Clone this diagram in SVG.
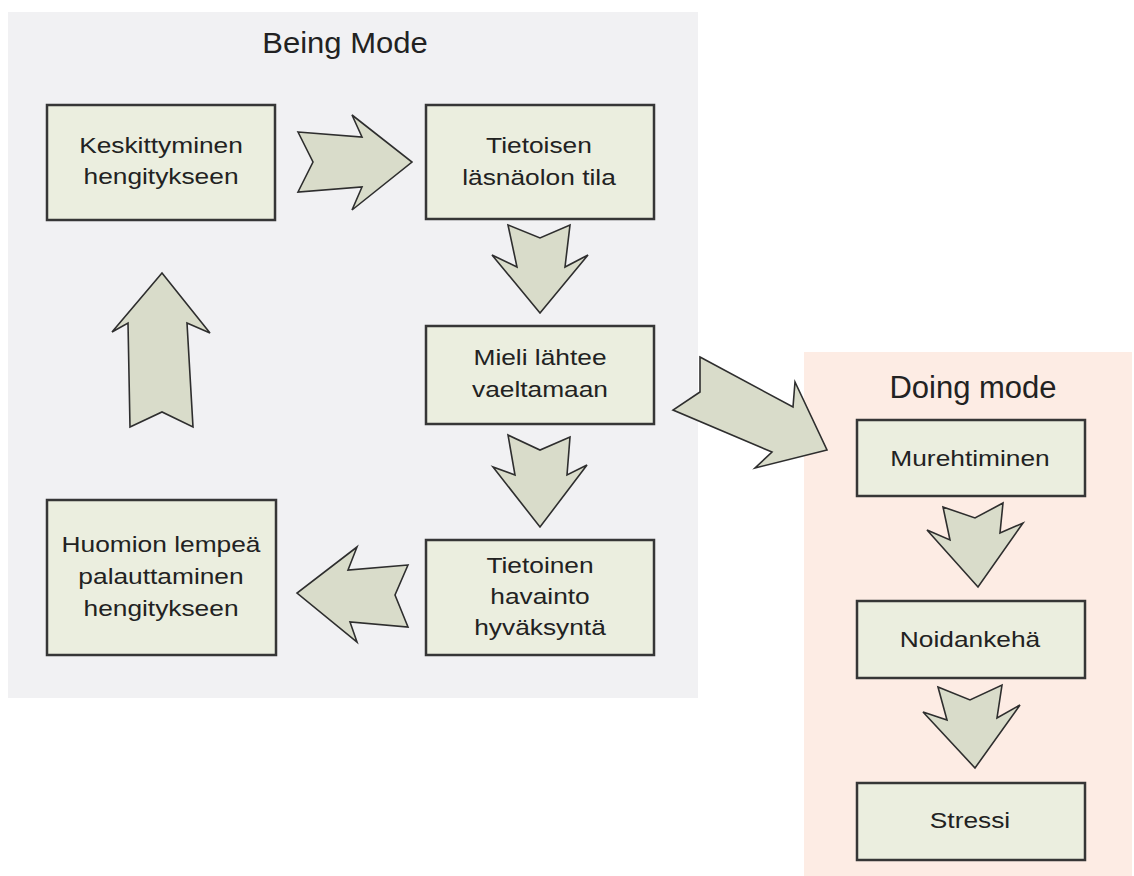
<svg xmlns="http://www.w3.org/2000/svg" width="1134" height="876" viewBox="0 0 1134 876">
<style>
.panelB{fill:#f1f1f3;}
.panelD{fill:#fdece4;}
.box{fill:#ebeedf;stroke:#363636;stroke-width:2.5;}
.arr{fill:#d9dcca;stroke:#2e2e2e;stroke-width:1.6;stroke-linejoin:miter;}
.t{font-family:"Liberation Sans",Arial,sans-serif;font-size:22.5px;fill:#222;text-anchor:middle;}
.title{font-family:"Liberation Sans",Arial,sans-serif;fill:#222;text-anchor:middle;}
</style>
<rect width="1134" height="876" fill="#ffffff"/>
<g id="being-mode">
<rect class="panelB" x="8" y="12" width="690" height="686"/>
<text class="title" font-size="29" transform="translate(345,0) scale(1.07,1)" x="0" y="53">Being Mode</text>
</g>
<g id="doing-mode">
<rect class="panelD" x="804" y="352" width="328" height="524"/>
<text class="title" font-size="31" x="973" y="398">Doing mode</text>
</g>
<g id="connectors">
<polygon class="arr" points="298,132 362,137 352,115 412,162 352,210 362,187 298,192 313,162"/>
<polygon class="arr" points="508,225 540,238 570,225 565,267 588,255 540,313 492,255 517,267"/>
<polygon class="arr" points="508,435 540,450 570,437 567,475 587,465 540,527 493,467 515,475"/>
<polygon class="arr" points="408,565 348,570 357,547 297,593 357,642 350,622 408,627 395,595"/>
<polygon class="arr" points="130,427 162,412 193,427 187,323 210,333 162,273 112,332 128,323"/>
<polygon class="arr" points="700,357 793,407 795,382 827,450 755,468 772,452 673,410 700,392"/>
<polygon class="arr" points="943,507 975,518 1003,503 1000,533 1023,523 978,587 927,530 950,540"/>
<polygon class="arr" points="938,687 970,700 1002,685 997,718 1020,705 975,768 923,712 947,720"/>
</g>
<g id="keskittyminen">
<rect class="box" x="47" y="105" width="228" height="115"/>
<text class="t" transform="translate(161,0) scale(1.17,1)" x="0" y="153">Keskittyminen<tspan x="0" dy="31">hengitykseen</tspan></text>
</g>
<g id="tietoisen-lasnaolon">
<rect class="box" x="426" y="105" width="228" height="114"/>
<text class="t" transform="translate(539,0) scale(1.17,1)" x="0" y="153">Tietoisen<tspan x="0" dy="32">läsnäolon tila</tspan></text>
</g>
<g id="mieli-lahtee">
<rect class="box" x="426" y="326" width="228" height="98"/>
<text class="t" transform="translate(540,0) scale(1.17,1)" x="0" y="365">Mieli lähtee<tspan x="0" dy="32">vaeltamaan</tspan></text>
</g>
<g id="tietoinen-havainto">
<rect class="box" x="426" y="540" width="228" height="115"/>
<text class="t" transform="translate(540,0) scale(1.17,1)" x="0" y="573">Tietoinen<tspan x="0" dy="31">havainto</tspan><tspan x="0" dy="31">hyväksyntä</tspan></text>
</g>
<g id="huomion-palauttaminen">
<rect class="box" x="47" y="500" width="229" height="155"/>
<text class="t" transform="translate(161,0) scale(1.17,1)" x="0" y="552">Huomion lempeä<tspan x="0" dy="32">palauttaminen</tspan><tspan x="0" dy="32">hengitykseen</tspan></text>
</g>
<g id="murehtiminen">
<rect class="box" x="857" y="420" width="228" height="76"/>
<text class="t" transform="translate(970,0) scale(1.17,1)" x="0" y="466">Murehtiminen</text>
</g>
<g id="noidankeha">
<rect class="box" x="857" y="601" width="228" height="77"/>
<text class="t" transform="translate(970,0) scale(1.17,1)" x="0" y="647">Noidankehä</text>
</g>
<g id="stressi">
<rect class="box" x="857" y="783" width="228" height="77"/>
<text class="t" transform="translate(970,0) scale(1.17,1)" x="0" y="828">Stressi</text>
</g>
</svg>
